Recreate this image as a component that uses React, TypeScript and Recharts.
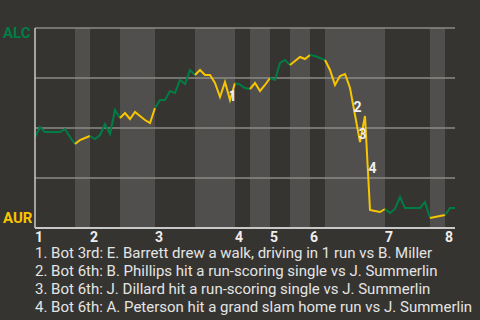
import {
  LineChart,
  Line,
  XAxis,
  YAxis,
  ReferenceArea,
  ReferenceLine,
  ReferenceDot,
} from "recharts";

// ALC win probability after each play (index = play number)
const winProb = [
  0.455, 0.505, 0.48, 0.48, 0.48, 0.48, 0.495, 0.455, 0.42, 0.44,
  0.45, 0.46, 0.445, 0.465, 0.52, 0.47, 0.59, 0.55, 0.575, 0.545,
  0.58, 0.56, 0.54, 0.525, 0.6, 0.64, 0.64, 0.685, 0.675, 0.74,
  0.72, 0.79, 0.765, 0.79, 0.765, 0.765, 0.725, 0.655, 0.73, 0.64,
  0.725, 0.717, 0.7, 0.695, 0.725, 0.685, 0.715, 0.75, 0.74, 0.825,
  0.84, 0.815, 0.835, 0.855, 0.845, 0.865, 0.86, 0.85, 0.84, 0.79,
  0.715, 0.76, 0.77, 0.7, 0.565, 0.43, 0.56, 0.09, 0.085, 0.08,
  0.095, 0.075, 0.095, 0.155, 0.1, 0.1, 0.1, 0.1, 0.13, 0.05,
  0.055, 0.06, 0.065, 0.1, 0.1,
];

// play index where each half inning starts (top 1, bot 1, top 2, ...), last = end
const halfInningStarts = [0, 8, 11, 17, 24, 32, 40, 43, 47, 51, 55, 58, 70, 79, 82, 84];

const inningLabels = ["1", "2", "3", "4", "5", "6", "7", "8"];
const gridValues = [0.25, 0.5, 0.75, 1];

// numbered plays: the play that ends the marked segment
const keyPlays = [39, 64, 65, 67];
const keyPlayNotes = [
  "1. Bot 3rd: E. Barrett drew a walk, driving in 1 run vs B. Miller",
  "2. Bot 6th: B. Phillips hit a run-scoring single vs J. Summerlin",
  "3. Bot 6th: J. Dillard hit a run-scoring single vs J. Summerlin",
  "4. Bot 6th: A. Peterson hit a grand slam home run vs J. Summerlin",
];

const BG = "#363431";
const BAND = "#504f4d";
const GREEN = "#007d45";
const YELLOW = "#f7c600";

const halfInnings = halfInningStarts.slice(0, -1).map((start, i) => {
  const end = halfInningStarts[i + 1];
  const data = [];
  for (let p = start; p <= end; p++) data.push({ pa: p, wp: winProb[p] });
  return { start, end, top: i % 2 === 0, data };
});

const inningTicks = halfInningStarts.filter((_, i) => i % 2 === 0).slice(0, inningLabels.length);

const InningTick = (props: any) => {
  const { x, payload, index } = props;
  return (
    <text
      x={x}
      y={242}
      textAnchor="start"
      fill="#eeeeee"
      fontSize={14}
      fontWeight="bold"
      fontFamily="Roboto"
    >
      {inningLabels[index] ?? payload.value}
    </text>
  );
};

const TeamTick = (props: any) => {
  const { y, payload } = props;
  const alc = payload.value === 1;
  return (
    <text
      x={3}
      y={alc ? y + 5 : y - 10}
      dominantBaseline="central"
      textAnchor="start"
      fill={alc ? GREEN : YELLOW}
      fontSize={15}
      fontWeight="bold"
      fontFamily="Roboto"
    >
      {alc ? "ALC" : "AUR"}
    </text>
  );
};

export default function App() {
  return (
    <div
      style={{
        position: "fixed",
        left: 0,
        top: 0,
        width: 480,
        height: 320,
        background: BG,
        fontFamily: "Roboto",
      }}
    >
      <LineChart
        width={480}
        height={320}
        margin={{ top: 28, right: 25, bottom: 62, left: 0 }}
      >
        {halfInnings
          .filter((h) => !h.top)
          .map((h) => (
            <ReferenceArea
              key={"band" + h.start}
              x1={h.start}
              x2={h.end}
              y1={0}
              y2={1}
              fill={BAND}
              fillOpacity={1}
              stroke="none"
            />
          ))}
        {gridValues.map((v) => (
          <ReferenceLine key={"g" + v} y={v} stroke="#8c8a87" strokeWidth={1.5} />
        ))}
        <XAxis
          dataKey="pa"
          type="number"
          domain={[0, halfInningStarts[halfInningStarts.length - 1]]}
          ticks={inningTicks}
          tick={<InningTick />}
          tickLine={false}
          axisLine={{ stroke: "#c8c8c8", strokeWidth: 2 }}
          height={30}
          allowDataOverflow
        />
        <YAxis
          type="number"
          domain={[0, 1]}
          ticks={[0, 1]}
          tick={<TeamTick />}
          tickLine={false}
          axisLine={{ stroke: "#c8c8c8", strokeWidth: 1.5 }}
          width={35}
        />
        {halfInnings.map((h) => (
          <Line
            key={"line" + h.start}
            data={h.data}
            dataKey="wp"
            type="linear"
            stroke={h.top ? GREEN : YELLOW}
            strokeWidth={2}
            dot={false}
            isAnimationActive={false}
          />
        ))}
        {keyPlays.map((p, i) => (
          <ReferenceDot
            key={"note" + p}
            x={p - 0.5}
            y={(winProb[p - 1] + winProb[p]) / 2}
            r={0}
            shape={(props: any) => (
              <text
                x={props.cx + 5}
                y={props.cy + 5}
                textAnchor="middle"
                dominantBaseline="central"
                fill="#eeeeee"
                fontSize={14}
                fontWeight="bold"
                fontFamily="Roboto"
              >
                {i + 1}
              </text>
            )}
          />
        ))}
      </LineChart>
      <div
        style={{
          position: "absolute",
          left: 35,
          top: 244,
          color: "#e4e4e4",
          fontSize: 15,
          lineHeight: "18px",
          whiteSpace: "nowrap",
        }}
      >
        {keyPlayNotes.map((n) => (
          <div key={n}>{n}</div>
        ))}
      </div>
    </div>
  );
}
